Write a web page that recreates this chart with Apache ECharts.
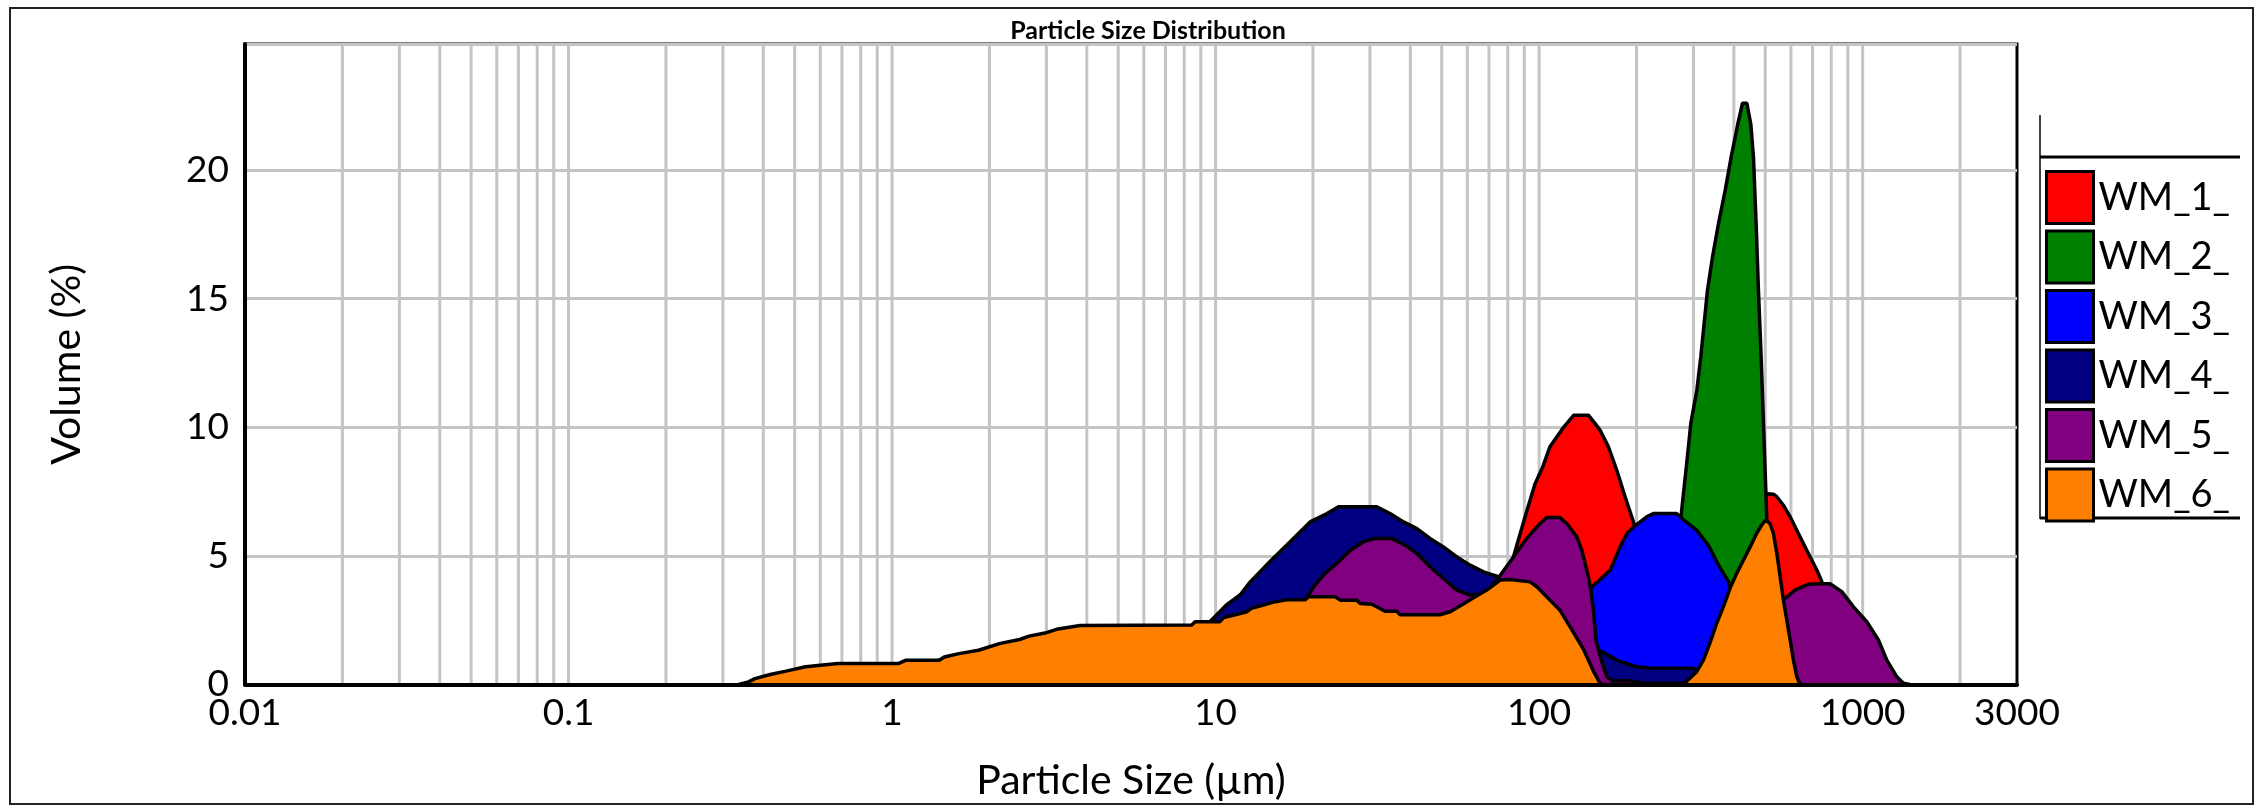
<!DOCTYPE html>
<html>
<head>
<meta charset="utf-8">
<script src="https://cdn.jsdelivr.net/npm/echarts@6.0.0/dist/echarts.min.js"></script>
<style>
  html, body { margin: 0; padding: 0; background: #fff; }
  #chart { width: 2264px; height: 808px; }
</style>
</head>
<body>
<div id="chart"></div>
<script>
const seriesNames = ['WM_1_', 'WM_2_', 'WM_3_', 'WM_4_', 'WM_5_', 'WM_6_']
const seriesColors = ['#ff0000', '#008000', '#0000ff', '#000080', '#800080', '#ff8000']

// [particle size (µm), volume (%)]
const wm1 = [
  [42, 0], [50, 0.3], [60, 1.0], [70, 2.3], [75, 3.3], [80, 4.2], [83.3, 4.96], [90.5, 6.52],
  [97.2, 7.81], [102.6, 8.46], [108, 9.24], [119, 10.0], [128, 10.47], [142, 10.47], [149, 10.14],
  [154.4, 9.88], [163.8, 9.24], [173.8, 8.33], [184.5, 7.29], [198, 6.13], [210, 5.5], [240, 4.5],
  [280, 4.0], [330, 4.3], [400, 5.4], [460, 6.8], [505, 7.42], [530, 7.4], [543, 7.3], [569, 6.97],
  [597, 6.52], [626, 6.0], [672, 5.22], [722, 4.45], [748, 4.0], [800, 3.2], [900, 1.9],
  [1000, 0.9], [1100, 0.3], [1200, 0]
]
const wm2 = [
  [170, 0], [200, 0.3], [230, 1.5], [255, 3.8], [274.8, 6.58], [287.3, 8.85], [294.3, 10.14],
  [307.3, 11.44], [316, 12.73], [323.6, 14.03], [331.4, 15.32], [343.4, 16.61], [358.4, 17.91],
  [375.8, 19.2], [392.3, 20.5], [411.3, 21.79], [425.2, 22.6], [438.5, 22.6], [451.1, 21.79],
  [459.8, 20.5], [468.6, 17.91], [476.4, 15.32], [485.6, 12.73], [493.8, 10.14], [502.1, 7.55],
  [505.6, 6.39], [530, 3.0], [560, 0.8], [600, 0]
]
const wm3 = [
  [90, 0], [100, 0.3], [115, 1.0], [130, 2.2], [140, 3.2], [145.5, 3.8], [154, 4.06], [166, 4.45],
  [172, 4.9], [178, 5.35], [187, 5.87], [196, 6.13], [215, 6.52], [226, 6.65], [266, 6.65],
  [286, 6.3], [307, 6.0], [334, 5.4], [360, 4.6], [385, 4.0], [400, 3.3], [430, 2.3], [470, 1.2],
  [520, 0.4], [570, 0]
]
const wm4 = [
  [0.4, 0], [1, 0.6], [2, 1.1], [4, 1.9], [6, 2.1], [8.5, 2.25], [9.6, 2.44], [10.8, 3.09],
  [11.9, 3.48], [12.8, 3.99], [14.7, 4.77], [17, 5.55], [19.6, 6.32], [22.1, 6.65], [24, 6.91],
  [31.5, 6.91], [34.6, 6.65], [38.1, 6.32], [41.9, 6.06], [46, 5.68], [50.6, 5.35], [55.7, 4.96],
  [61.2, 4.64], [67.3, 4.38], [74.8, 4.19], [85, 3.8], [100, 3.0], [115, 2.4], [130, 1.9],
  [145, 1.5], [159, 1.22], [176, 0.91], [199, 0.7], [220, 0.63], [300, 0.63], [330, 0.3], [360, 0]
]
const wm5 = [
  [0.4, 0], [0.6, 0.4], [1, 0.7], [2, 1.2], [4, 2.1], [8, 2.2], [12, 2.5], [16, 3.0], [19.1, 3.35],
  [20.1, 3.8], [21.8, 4.32], [24, 4.77], [26, 5.2], [28.6, 5.55], [31.1, 5.68], [35, 5.68],
  [38.5, 5.42], [41.9, 5.09], [46, 4.58], [50.6, 4.12], [55.7, 3.67], [61.2, 3.48], [66, 3.5],
  [70, 3.7], [74, 4.06], [81.3, 4.77], [91.6, 5.68], [100.7, 6.26], [105.6, 6.49], [116, 6.49],
  [121.8, 6.26], [130.8, 5.74], [135.5, 5.22], [138.7, 4.71], [142, 4.19], [144.4, 3.67],
  [147.2, 2.89], [150, 1.7], [156, 0.9], [162, 0.3], [168, 0.15], [190, 0.15], [210, 0.05],
  [280, 0.05], [310, 0.2], [350, 0.6], [400, 1.2], [460, 2.2], [530, 3.0], [576, 3.35], [618, 3.67],
  [680, 3.9], [739, 3.92], [793, 3.92], [862, 3.61], [937, 3.02], [1030, 2.44], [1119, 1.73],
  [1188, 0.95], [1276, 0.3], [1337, 0.05], [1400, 0]
]
const wm6 = [
  [0.336, 0], [0.36, 0.1], [0.377, 0.23], [0.42, 0.39], [0.47, 0.52], [0.54, 0.69], [0.68, 0.82],
  [1.05, 0.82], [1.1, 0.94], [1.4, 0.94], [1.45, 1.07], [1.61, 1.2], [1.85, 1.33], [2.16, 1.6],
  [2.48, 1.75], [2.65, 1.88], [2.97, 2.0], [3.26, 2.16], [3.81, 2.29], [8.44, 2.31], [8.64, 2.44],
  [10.3, 2.44], [10.6, 2.6], [11.5, 2.71], [12.5, 2.83], [12.9, 2.96], [13.7, 3.05], [15.3, 3.22],
  [16.6, 3.29], [18.9, 3.29], [19.4, 3.41], [23.4, 3.41], [24.3, 3.28], [27.3, 3.28], [28, 3.15],
  [30.4, 3.12], [33.4, 2.85], [36.3, 2.85], [37.2, 2.71], [49.4, 2.71], [53.1, 2.83], [58.3, 3.13],
  [63.4, 3.41], [68.9, 3.67], [75.8, 4.06], [81.3, 4.08], [93.8, 3.99], [98.4, 3.8], [108, 3.28],
  [116, 2.89], [126, 2.14], [137, 1.38], [148, 0.46], [155, 0], [279, 0], [307, 0.5], [322, 0.95],
  [337, 1.6], [354, 2.38], [371, 3.02], [389, 3.73], [408, 4.32], [428, 4.83], [449, 5.35],
  [470, 5.87], [487, 6.19], [501, 6.39], [517, 6.26], [530, 5.87], [543, 5.09], [556, 4.19],
  [569, 3.28], [583, 2.5], [597, 1.73], [611, 0.95], [626, 0.3], [641, 0]
]
const seriesData = [wm1, wm2, wm3, wm4, wm5, wm6]

const xMin = 0.01
const xMax = 3000
const yMax = 24.9
const decades = [0.01, 0.1, 1, 10, 100, 1000]
const gridSteps = [1, 2, 3, 4, 5, 6, 7, 8, 9]

// vertical grid lines at 1..9 x 10^n, like a log paper
const gridLines = []
decades.forEach(d => {
  gridSteps.forEach(k => {
    const v = +(d * k).toPrecision(3)
    if (v > xMin && v < xMax) gridLines.push([v, 0])
  })
})

const font = 'Lato, "Open Sans", sans-serif'
const chart = echarts.init(document.getElementById('chart'))

// each series gets its own z so its outline is covered by the next series' area
const areaSeries = seriesNames.map((name, i) => ({
  name: name,
  type: 'line',
  data: seriesData[i],
  showSymbol: false,
  symbol: 'none',
  smooth: false,
  z: 2 + i,
  lineStyle: { color: '#000', width: 3.5 },
  itemStyle: { color: seriesColors[i] },
  areaStyle: { color: seriesColors[i], opacity: 1 }
}))

const option = {
  backgroundColor: '#fff',
  animation: false,
  title: {
    text: 'Particle Size Distribution',
    left: 1143,
    top: 13,
    textAlign: 'center',
    textStyle: { fontFamily: font, fontSize: 25, fontWeight: 'bold', color: '#000' }
  },
  grid: {
    left: 245,
    right: 247,
    top: 44,
    bottom: 123.5,
    show: true,
    borderColor: '#000',
    borderWidth: 3,
    backgroundColor: 'transparent'
  },
  legend: {
    orient: 'vertical',
    left: 2040,
    top: 165,
    itemWidth: 47,
    itemHeight: 52,
    itemGap: 4.5,
    icon: 'rect',
    data: seriesNames,
    itemStyle: { borderColor: '#000', borderWidth: 3 },
    textStyle: { fontFamily: font, fontSize: 38, color: '#000' },
    selectedMode: false
  },
  xAxis: {
    type: 'log',
    logBase: 10,
    min: xMin,
    max: xMax,
    z: 10,
    name: 'Particle Size (µm)',
    nameLocation: 'middle',
    nameGap: 76,
    nameTextStyle: { fontFamily: font, fontSize: 41, color: '#000' },
    axisLine: { lineStyle: { color: '#000', width: 4 } },
    axisTick: { show: false },
    splitLine: { show: false },
    minorTick: { show: false },
    axisLabel: {
      fontFamily: font,
      fontSize: 37,
      color: '#000',
      margin: 10,
      showMinLabel: true,
      showMaxLabel: true,
      formatter: v => String(parseFloat(Number(v).toPrecision(4)))
    }
  },
  yAxis: {
    type: 'value',
    min: 0,
    max: yMax,
    interval: 5,
    name: 'Volume (%)',
    nameLocation: 'middle',
    nameGap: 158,
    nameTextStyle: { fontFamily: font, fontSize: 41, color: '#000' },
    axisLine: { show: true, lineStyle: { color: '#000', width: 4 } },
    axisTick: { show: false },
    axisLabel: {
      fontFamily: font,
      fontSize: 37,
      color: '#000',
      margin: 16,
      showMaxLabel: false
    },
    splitLine: { lineStyle: { color: '#c4c4c4', width: 3 } }
  },
  series: [
    {
      type: 'custom',
      z: 1,
      silent: true,
      data: gridLines,
      renderItem: (params, api) => {
        const x = api.value(0)
        const top = api.coord([x, yMax])
        const bottom = api.coord([x, 0])
        return {
          type: 'line',
          shape: { x1: top[0], y1: top[1], x2: bottom[0], y2: bottom[1] },
          style: { stroke: '#c4c4c4', lineWidth: 3 }
        }
      }
    },
    ...areaSeries
  ],
  graphic: [
    {
      type: 'rect',
      shape: { x: 10, y: 8, width: 2243, height: 796 },
      style: { fill: 'none', stroke: '#222', lineWidth: 2 },
      silent: true
    },
    {
      type: 'line',
      shape: { x1: 2040, y1: 115, x2: 2040, y2: 519 },
      style: { stroke: '#000', lineWidth: 1.5 },
      silent: true
    },
    {
      type: 'line',
      shape: { x1: 2040, y1: 157, x2: 2240, y2: 157 },
      style: { stroke: '#000', lineWidth: 3 },
      silent: true
    },
    {
      type: 'line',
      shape: { x1: 2040, y1: 518, x2: 2240, y2: 518 },
      style: { stroke: '#000', lineWidth: 3 },
      silent: true
    }
  ]
}

chart.setOption(option)
window.addEventListener('resize', () => chart.resize())
</script>
</body>
</html>
